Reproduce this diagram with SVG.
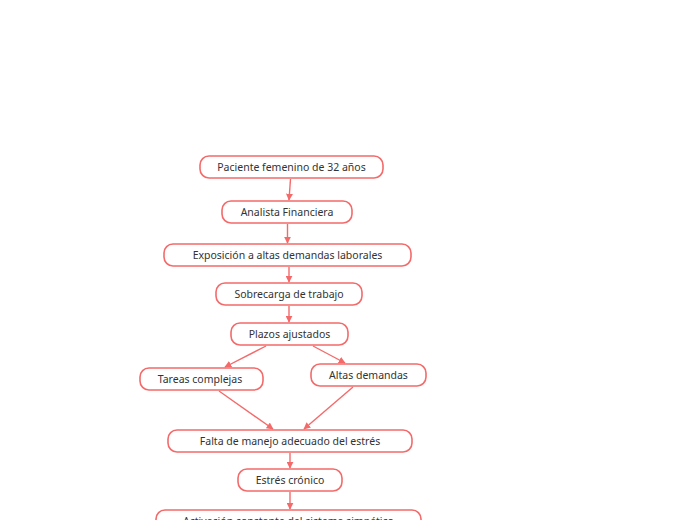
<svg xmlns="http://www.w3.org/2000/svg" width="697" height="520" viewBox="0 0 697 520">
<defs>
<marker id="ah" viewBox="0 0 10 10" refX="9" refY="5" markerWidth="7" markerHeight="7" markerUnits="userSpaceOnUse" orient="auto">
<path d="M0,0 L10,5 L0,10 z" fill="#f46a6a"/>
</marker>
<style>
.n rect{fill:#fff;stroke:#f46a6a;stroke-width:1.6}
.n text{font-family:"Noto Sans","DejaVu Sans",sans-serif;font-size:10.5px;fill:#333;text-anchor:middle;dominant-baseline:central}
.c line{stroke:#f46a6a;stroke-width:1.4;marker-end:url(#ah)}
</style>
</defs>
<rect width="697" height="520" fill="#fff"/>
<g class="c" id="connectors">
<line x1="290.5" y1="179" x2="289" y2="200"/>
<line x1="287.5" y1="224" x2="287.5" y2="243"/>
<line x1="289" y1="267" x2="289" y2="282"/>
<line x1="289" y1="306" x2="289" y2="322"/>
<line x1="266" y1="346" x2="225" y2="367"/>
<line x1="313" y1="346" x2="345" y2="363"/>
<line x1="219" y1="391" x2="273" y2="429"/>
<line x1="353" y1="387" x2="304" y2="429"/>
<line x1="290" y1="453" x2="290" y2="468"/>
<line x1="290" y1="492" x2="290" y2="509"/>
</g>
<g class="n" id="n1"><rect x="200" y="156" width="183" height="22" rx="9"/><text x="291.5" y="167">Paciente femenino de 32 años</text></g>
<g class="n" id="n2"><rect x="222" y="201" width="130" height="22" rx="9"/><text x="287" y="212">Analista Financiera</text></g>
<g class="n" id="n3"><rect x="164" y="244" width="247" height="22" rx="9"/><text x="287.5" y="255">Exposición a altas demandas laborales</text></g>
<g class="n" id="n4"><rect x="216" y="283" width="146" height="22" rx="9"/><text x="289" y="294">Sobrecarga de trabajo</text></g>
<g class="n" id="n5"><rect x="231" y="323" width="117" height="22" rx="9"/><text x="289.5" y="334">Plazos ajustados</text></g>
<g class="n" id="n6"><rect x="140" y="368" width="123" height="22" rx="9"/><text x="200" y="379">Tareas complejas</text></g>
<g class="n" id="n7"><rect x="311" y="364" width="115" height="22" rx="9"/><text x="368.5" y="375">Altas demandas</text></g>
<g class="n" id="n8"><rect x="168" y="430" width="244" height="22" rx="9"/><text x="290" y="441">Falta de manejo adecuado del estrés</text></g>
<g class="n" id="n9"><rect x="238" y="469" width="104" height="22" rx="9"/><text x="290" y="480">Estrés crónico</text></g>
<g class="n" id="n10"><rect x="156" y="510" width="265" height="22" rx="9"/><text x="288.5" y="521">Activación constante del sistema simpático</text></g>
</svg>
